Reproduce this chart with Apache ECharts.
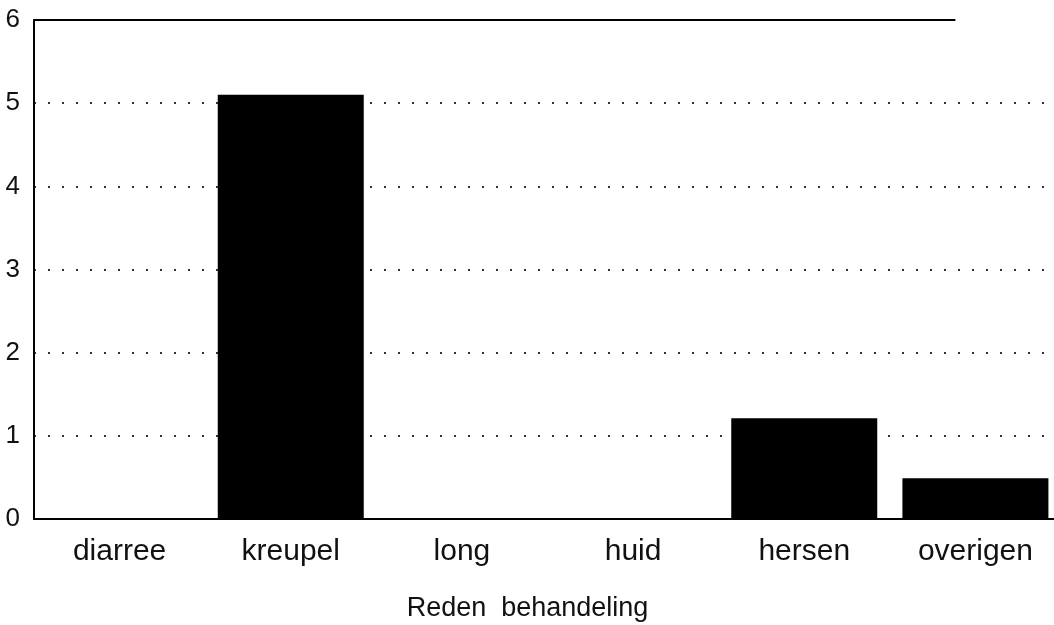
<!DOCTYPE html>
<html>
<head>
<meta charset="utf-8">
<script src="https://cdn.jsdelivr.net/npm/echarts@6/dist/echarts.min.js"></script>
<style>
html,body{margin:0;padding:0;background:#fff;}
#main{width:1054px;height:625px;}
</style>
</head>
<body>
<div id="main"></div>
<script>
const categories = ['diarree', 'kreupel', 'long', 'huid', 'hersen', 'overigen'];
const values = [0, 5.1, 0, 0, 1.21, 0.49];
const yTicks = [0, 1, 2, 3, 4, 5, 6];
const axisName = 'Reden  behandeling';

const chart = echarts.init(document.getElementById('main'));
const font = '"Liberation Sans", Arial, sans-serif';
chart.setOption({
  animation: false,
  backgroundColor: '#fff',
  grid: { left: 34, width: 1027, top: 20, height: 499, containLabel: false, outerBoundsMode: 'none' },
  xAxis: {
    type: 'category',
    data: categories,
    name: axisName,
    nameLocation: 'middle',
    nameGap: 76,
    nameTextStyle: { fontFamily: font, fontSize: 27, color: '#111', padding: [0, 40, 0, 0] },
    axisLine: { show: true, lineStyle: { color: '#000', width: 2 } },
    axisTick: { show: false },
    axisLabel: { fontFamily: font, fontSize: 30, color: '#111', margin: 18 }
  },
  yAxis: {
    type: 'value',
    min: yTicks[0],
    max: yTicks[yTicks.length - 1],
    interval: 1,
    axisLine: { show: true, lineStyle: { color: '#000', width: 2 } },
    axisTick: { show: false },
    axisLabel: { fontFamily: font, fontSize: 26, color: '#111', margin: 14, padding: [6, 0, 0, 0] },
    splitLine: {
      show: true,
      lineStyle: {
        color: ['rgba(0,0,0,0)', '#333', '#333', '#333', '#333', '#333', 'rgba(0,0,0,0)'],
        type: [2, 12],
        width: 2
      }
    }
  },
  series: [{
    type: 'bar',
    data: values,
    barWidth: 146,
    itemStyle: { color: '#000' }
  }]
});

// top border line at y = max, from axis to just before last category
const yTop = chart.convertToPixel({ yAxisIndex: 0 }, yTicks[yTicks.length - 1]);
const xStart = chart.convertToPixel({ xAxisIndex: 0 }, categories[0]) - 86;
const xEnd = chart.convertToPixel({ xAxisIndex: 0 }, categories[categories.length - 1]) - 20;
chart.setOption({
  graphic: [{
    type: 'line',
    shape: { x1: xStart, y1: yTop, x2: xEnd, y2: yTop },
    style: { stroke: '#000', lineWidth: 2 }
  }]
});
</script>
</body>
</html>
